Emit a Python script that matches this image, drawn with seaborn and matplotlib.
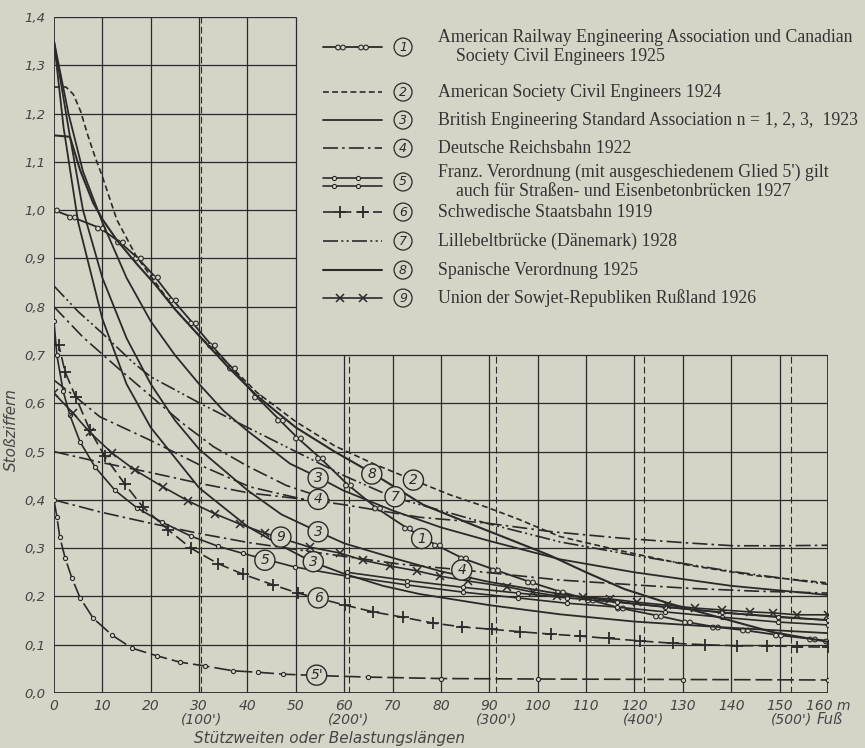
import numpy as np
import pandas as pd
import seaborn as sns
import matplotlib.pyplot as plt
from matplotlib.path import Path
from matplotlib.transforms import blended_transform_factory

# ====== DATA (x in m, y = Stoßziffer) ======
c1_x = [0, 3.7, 9.5, 13.6, 17.4, 20.9, 24.6, 28.7, 32.6, 36.8, 41.9, 46.7, 50.4, 55, 60.8, 66.7,
        72.9, 79.1, 84.5, 91.2, 98.4, 104.6, 110.8, 117, 124.9, 130.8, 136.6, 142.8, 149.7, 156.7, 160]
c1_y = [1.0, 0.986, 0.963, 0.934, 0.90, 0.862, 0.814, 0.766, 0.72, 0.673, 0.613, 0.565, 0.528, 0.487, 0.431, 0.383,
        0.342, 0.306, 0.279, 0.255, 0.23, 0.21, 0.193, 0.176, 0.16, 0.147, 0.137, 0.13, 0.12, 0.112, 0.108]

c2_x = [0, 2.5, 4, 5.5, 7, 8.5, 10, 13, 17, 21, 25, 30, 36.4, 42, 50, 58, 66, 74.3, 82, 89.4, 96, 104.6, 117, 131, 145, 160]
c2_y = [1.255, 1.255, 1.24, 1.205, 1.155, 1.11, 1.07, 0.98, 0.905, 0.85, 0.795, 0.74, 0.678, 0.622, 0.562, 0.512,
        0.475, 0.441, 0.41, 0.385, 0.36, 0.324, 0.295, 0.265, 0.243, 0.228]

c3a_x = [0, 3, 6, 10, 15, 20, 25, 30, 35, 40, 48.8, 54.6, 59.7, 70, 80, 90, 104.6, 120, 140, 160]
c3a_y = [1.35, 1.2, 1.08, 0.975, 0.86, 0.77, 0.70, 0.64, 0.585, 0.543, 0.475, 0.447, 0.42, 0.378, 0.343, 0.315,
         0.277, 0.25, 0.222, 0.203]
c3b_x = [0, 3, 6, 10, 15, 20, 25, 30, 40, 47, 54, 60, 70, 80, 90, 104.6, 120, 140, 160]
c3b_y = [1.35, 1.17, 1.0, 0.86, 0.735, 0.64, 0.565, 0.505, 0.42, 0.37, 0.337, 0.31, 0.28, 0.252, 0.23, 0.205,
         0.185, 0.165, 0.151]
c3c_x = [0, 2, 5, 10, 15, 20, 30, 40, 47, 53.5, 60, 68, 75.6, 90, 104.6, 120, 140, 160]
c3c_y = [1.35, 1.17, 0.975, 0.775, 0.64, 0.55, 0.425, 0.345, 0.305, 0.271, 0.247, 0.222, 0.205, 0.182, 0.163,
         0.148, 0.135, 0.124]

c4a_x = [0, 9.5, 19.8, 30.2, 40.5, 52.9, 60, 75.6, 89.4, 103, 117, 130.8, 140.4, 150, 160]
c4a_y = [0.5, 0.478, 0.457, 0.434, 0.414, 0.40, 0.39, 0.364, 0.352, 0.334, 0.321, 0.311, 0.305, 0.305, 0.306]
c4b_x = [0, 9.5, 19.8, 30.2, 40, 50.9, 60, 71.5, 84.3, 104.6, 120, 131, 145, 160]
c4b_y = [0.4, 0.375, 0.352, 0.33, 0.312, 0.296, 0.283, 0.267, 0.255, 0.234, 0.224, 0.217, 0.211, 0.207]
c4c_x = [0, 6, 13, 20, 26.4, 33, 40, 48, 57]
c4c_y = [0.80, 0.737, 0.675, 0.615, 0.56, 0.51, 0.47, 0.43, 0.40]
c4d_x = [0, 4.5, 9.5, 19.8, 30.2, 40.5, 52.9, 57]
c4d_y = [0.648, 0.613, 0.572, 0.524, 0.472, 0.427, 0.398, 0.395]

c5a_x = [0, 0.6, 1.9, 3.3, 5.4, 8.5, 12.6, 17.2, 22.3, 28.3, 33.9, 39.1, 49.8, 60.6, 72.9, 84.5, 95.9, 106,
         116.4, 126.3, 138, 149.7, 160]
c5a_y = [0.77, 0.70, 0.625, 0.575, 0.52, 0.468, 0.42, 0.383, 0.354, 0.325, 0.304, 0.289, 0.261, 0.242, 0.224,
         0.209, 0.197, 0.186, 0.178, 0.168, 0.157, 0.147, 0.141]
c5b_x = [60.6, 72.9, 84.5, 95.9, 106, 116.4, 126.3, 138, 149.7, 160]
c5b_y = [0.25, 0.233, 0.219, 0.207, 0.197, 0.188, 0.178, 0.167, 0.157, 0.151]
c5s_x = [0, 0.6, 1.2, 2.3, 3.7, 5.4, 8.1, 12, 16.1, 21.3, 26, 31.2, 37, 42.2, 47.4, 55, 65, 80, 100, 130, 160]
c5s_y = [0.40, 0.365, 0.323, 0.28, 0.238, 0.197, 0.155, 0.12, 0.093, 0.077, 0.064, 0.056, 0.046, 0.043, 0.039,
         0.036, 0.033, 0.03, 0.029, 0.028, 0.027]

c6_x = [0, 1, 2.3, 4.5, 7.4, 10.5, 14.7, 18.4, 23.6, 28.3, 33.9, 39.1, 45.3, 50.4, 60.2, 66, 72.1, 78.3, 84.3,
        90.5, 96.3, 102.7, 108.7, 114.7, 121.1, 128, 134.6, 141.2, 147.4, 153.6, 160]
c6_y = [0.72, 0.72, 0.665, 0.613, 0.545, 0.49, 0.432, 0.385, 0.338, 0.30, 0.268, 0.246, 0.224, 0.207, 0.182,
        0.168, 0.157, 0.145, 0.137, 0.132, 0.127, 0.122, 0.118, 0.113, 0.108, 0.103, 0.10, 0.098, 0.098, 0.096, 0.095]

c7_x = [0, 5, 10, 16.3, 20, 30.2, 40, 50, 60, 70, 80, 90, 104.6, 120, 140, 160]
c7_y = [0.843, 0.79, 0.745, 0.685, 0.655, 0.60, 0.55, 0.50, 0.45, 0.406, 0.378, 0.35, 0.313, 0.285, 0.252, 0.225]

c8_x = [0, 3.3, 5.4, 8.1, 10.1, 13, 17, 21, 25, 30, 36, 42, 50, 58, 65.7, 76.3, 87.4, 95, 102.5, 110, 118,
        127, 137, 148.6, 160]
c8_y = [1.155, 1.152, 1.083, 1.015, 0.98, 0.938, 0.89, 0.845, 0.795, 0.74, 0.675, 0.615, 0.55, 0.50, 0.456,
        0.39, 0.345, 0.315, 0.285, 0.25, 0.215, 0.186, 0.158, 0.126, 0.106]

c9_x = [0, 3.9, 7.4, 12, 16.7, 22.5, 27.7, 33.3, 38.4, 43.6, 52.9, 59.1, 63.9, 69.5, 75, 79.8, 85.6, 93.6, 99,
        104, 109.4, 114.9, 120.5, 126.7, 132.5, 138.1, 143.9, 148.6, 153.6, 160]
c9_y = [0.621, 0.58, 0.54, 0.497, 0.462, 0.427, 0.398, 0.371, 0.35, 0.331, 0.302, 0.29, 0.275, 0.263, 0.253,
        0.242, 0.232, 0.22, 0.209, 0.201, 0.199, 0.195, 0.188, 0.182, 0.176, 0.172, 0.168, 0.166, 0.162, 0.162]

# circled curve numbers on the chart
tag_text = ["3", "3", "3", "8", "2", "4", "7", "1", "9", "5", "6", "4", "5'"]
tag_x = [54.6, 54.6, 53.6, 65.7, 74.3, 54.6, 70.5, 76.0, 46.9, 43.6, 54.6, 84.3, 54.3]
tag_y = [0.445, 0.334, 0.272, 0.4535, 0.441, 0.401, 0.4065, 0.32, 0.323, 0.275, 0.197, 0.2547, 0.037]

y_ticks = [round(0.1 * i, 1) for i in range(15)]
y_labels = ["0,0", "0,1", "0,2", "0,3", "0,4", "0,5", "0,6", "0,7", "0,8", "0,9", "1,0", "1,1", "1,2", "1,3", "1,4"]
x_ticks = list(range(0, 161, 10))
x_labels = [str(v) for v in range(0, 160, 10)] + ["160 m"]
foot_pos = [30.48, 60.96, 91.44, 121.92, 152.4]
foot_labels = ["(100')", "(200')", "(300')", "(400')", "(500')"]

legend_num = ["1", "2", "3", "4", "5", "6", "7", "8", "9"]
legend_text = [
    "American Railway Engineering Association und Canadian\n    Society Civil Engineers 1925",
    "American Society Civil Engineers 1924",
    "British Engineering Standard Association n = 1, 2, 3,  1923",
    "Deutsche Reichsbahn 1922",
    "Franz. Verordnung (mit ausgeschiedenem Glied 5') gilt\n    auch für Straßen- und Eisenbetonbrücken 1927",
    "Schwedische Staatsbahn 1919",
    "Lillebeltbrücke (Dänemark) 1928",
    "Spanische Verordnung 1925",
    "Union der Sowjet-Republiken Rußland 1926",
]

# ====== STYLE ======
BG = "#d6d4c6"
INK = "#2a2a2a"
GREY = "#454545"
sns.set_style("white")
plt.rcParams["font.family"] = ["DejaVu Sans"]

# marker for curve 1: two small circles side by side ("oo")
_circ = Path.unit_circle()
double_o = Path.make_compound_path(
    Path(_circ.vertices + [-1.05, 0], _circ.codes),
    Path(_circ.vertices + [1.05, 0], _circ.codes),
)

styles = {
    "1": dict(linestyle="-", linewidth=1.3, marker=double_o, markersize=7),
    "2": dict(linestyle=(0, (3.5, 2)), linewidth=1.2),
    "3": dict(linestyle="-", linewidth=1.3),
    "4": dict(linestyle=(0, (9, 2.5, 1.5, 2.5)), linewidth=1.2),
    "5": dict(linestyle="-", linewidth=1.2, marker="o", markersize=3),
    "5s": dict(linestyle=(0, (10, 3)), linewidth=1.2, marker="o", markersize=3),
    "6": dict(linestyle=(0, (7, 3)), linewidth=1.2, marker="+", markersize=8, markeredgewidth=1.3),
    "7": dict(linestyle=(0, (9, 2, 1.2, 2, 1.2, 2)), linewidth=1.2),
    "8": dict(linestyle="-", linewidth=1.5),
    "9": dict(linestyle="-", linewidth=1.2, marker="x", markersize=6, markeredgewidth=1.1),
}
hollow = ("o", "1")

curves = [
    (c1_x, c1_y, "1"), (c2_x, c2_y, "2"),
    (c3a_x, c3a_y, "3"), (c3b_x, c3b_y, "3"), (c3c_x, c3c_y, "3"),
    (c4a_x, c4a_y, "4"), (c4b_x, c4b_y, "4"), (c4c_x, c4c_y, "4"), (c4d_x, c4d_y, "4"),
    (c5a_x, c5a_y, "5"), (c5b_x, c5b_y, "5"), (c5s_x, c5s_y, "5s"),
    (c6_x, c6_y, "6"), (c7_x, c7_y, "7"), (c8_x, c8_y, "8"), (c9_x, c9_y, "9"),
]

# ====== FIGURE ======
fig = plt.figure(figsize=(8.65, 7.48), dpi=100, facecolor=BG)
ax = fig.add_axes([0.0624, 0.0735, 0.8948, 0.9037])
ax.set_facecolor(BG)
ax.set_xlim(0, 160)
ax.set_ylim(0, 1.4)
for s in ax.spines.values():
    s.set_visible(False)

# grid: full width up to 0.7, only the left box above
for xv in range(10, 160, 10):
    top = 1.4 if xv <= 50 else 0.7
    ax.vlines(xv, 0, top, color=INK, lw=0.9, zorder=1)
for yv in y_ticks[1:]:
    right = 160 if yv <= 0.7 + 1e-9 else 50
    ax.hlines(yv, 0, right, color=INK, lw=0.9, zorder=1)
ax.vlines(0, 0, 1.4, color=INK, lw=1.3, zorder=1)
ax.vlines(160, 0, 0.7, color=INK, lw=1.3, zorder=1)
ax.hlines(0, 0, 160, color=INK, lw=1.3, zorder=1)
for i, fp in enumerate(foot_pos):
    ax.vlines(fp, 0, 1.4 if i == 0 else 0.7, color=INK, lw=0.8, linestyles=(0, (6, 3)), zorder=1)

# curves
for cx, cy, key in curves:
    kw = dict(styles[key])
    if "marker" in kw:
        kw.setdefault("markeredgewidth", 0.8)
        kw["markeredgecolor"] = INK
        kw["markerfacecolor"] = BG if key in ("1", "5", "5s") else INK
    sns.lineplot(x=cx, y=cy, ax=ax, color=INK, sort=False, estimator=None, zorder=3, **kw)

# circled numbers on the curves
for t, tx, ty in zip(tag_text, tag_x, tag_y):
    ax.text(tx, ty, t, ha="center", va="center", fontsize=10, style="italic", color=INK, zorder=6,
            bbox=dict(boxstyle="circle,pad=0.22", fc=BG, ec=INK, lw=1.0))

# ticks
ax.set_yticks(y_ticks)
ax.set_yticklabels(y_labels, fontsize=9.5, style="italic", color=GREY)
ax.set_xticks(x_ticks)
ax.set_xticklabels(x_labels, fontsize=10, style="italic", color=GREY)
ax.set_yticks(np.arange(0.05, 1.4, 0.1), minor=True)
ax.set_xticks(np.arange(5, 160, 10), minor=True)
ax.tick_params(axis="y", which="major", length=0, pad=6)
ax.tick_params(axis="x", which="major", length=0, pad=4)
ax.tick_params(axis="y", which="minor", length=4, width=0.9, color=INK, direction="out")
ax.tick_params(axis="x", which="minor", length=5, width=0.9, color=INK, direction="in")

trans = blended_transform_factory(ax.transData, ax.transAxes)
for fp, fl in zip(foot_pos, foot_labels):
    ax.text(fp, -0.039, fl, transform=trans, ha="center", va="center", fontsize=10,
            style="italic", color=GREY)
ax.text(foot_pos[-1] + 5.3, -0.039, "Fuß", transform=trans, ha="left", va="center", fontsize=10.5,
        style="italic", color=GREY)

fig.text(330 / 865, 1 - 738 / 748, "Stützweiten oder Belastungslängen", ha="center", va="center",
         fontsize=11, style="italic", color=GREY)
fig.text(11 / 865, 1 - 430 / 748, "Stoßziffern", ha="center", va="center", rotation=90,
         fontsize=11, style="italic", color=GREY)

# ====== LEGEND (drawn by hand to the right of the upper box) ======
leg_rows = [0.9556, 0.889, 0.8476, 0.806, 0.756, 0.7115, 0.6686, 0.6257, 0.5843]
x0, x1 = 0.3475, 0.4238
for num, txt, ry in zip(legend_num, legend_text, leg_rows):
    kw = dict(styles[num])
    if num == "5":
        for dy in (-0.006, 0.006):
            ax.plot([x0, x1], [ry + dy, ry + dy], transform=ax.transAxes, color=INK, clip_on=False,
                    lw=1.2, zorder=3)
            ax.plot([x0 + 0.014, x0 + 0.045], [ry + dy, ry + dy], transform=ax.transAxes, ls="none",
                    clip_on=False, marker="o", ms=3, mfc=BG, mec=INK, mew=0.8, zorder=4)
    else:
        mk = kw.pop("marker", None)
        ms = kw.pop("markersize", 6)
        mew = kw.pop("markeredgewidth", 0.8)
        ax.plot([x0, x1], [ry, ry], transform=ax.transAxes, color=INK, clip_on=False, zorder=3, **kw)
        if mk is not None:
            ax.plot([x0 + 0.022, x0 + 0.052], [ry, ry], transform=ax.transAxes, ls="none", marker=mk,
                    ms=ms, mew=mew, color=INK, mec=INK, mfc=BG if num == "1" else INK,
                    clip_on=False, zorder=4)
    ax.text(0.451, ry, num, transform=ax.transAxes, ha="center", va="center", fontsize=9,
            style="italic", color=INK, bbox=dict(boxstyle="circle,pad=0.2", fc=BG, ec=INK, lw=0.9))
    ax.text(0.496, ry, txt, transform=ax.transAxes, ha="left", va="center", fontsize=12.8,
            family="Liberation Serif", color="#333333", linespacing=1.17)

fig.savefig("out.png", dpi=100, facecolor=BG)
